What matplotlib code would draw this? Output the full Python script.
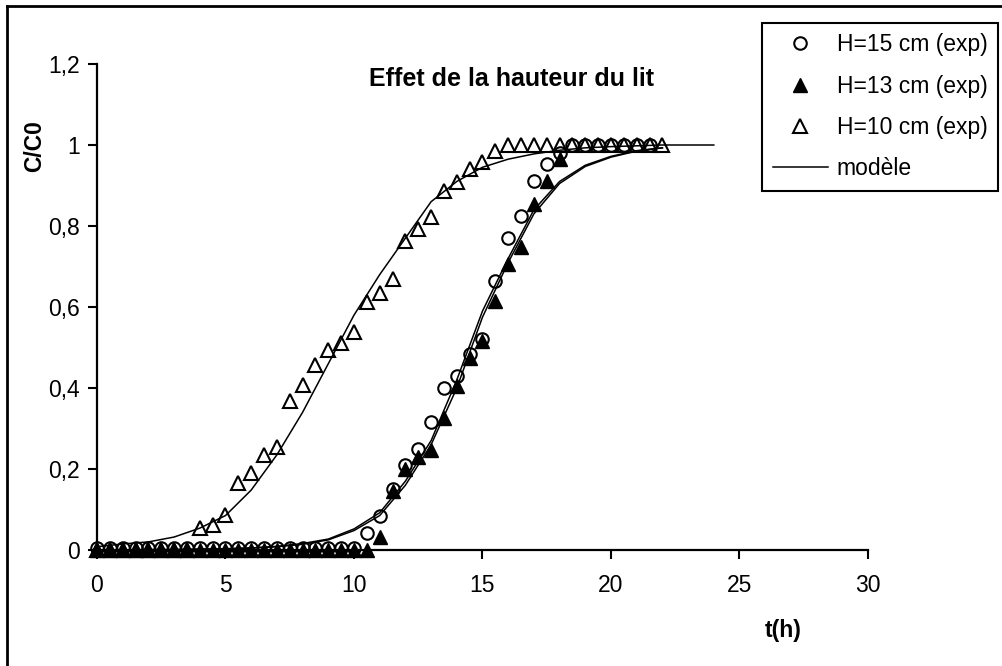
import matplotlib
matplotlib.use('Agg')
import matplotlib.pyplot as plt
from matplotlib.lines import Line2D
from matplotlib.ticker import FuncFormatter

plt.rcParams['font.family'] = ['Liberation Sans', 'DejaVu Sans']

# experimental points, H=15 cm (open circles)
t_h15 = [0, 0.5, 1, 1.5, 2, 2.5, 3, 3.5, 4, 4.5, 5, 5.5, 6, 6.5, 7, 7.5, 8, 8.5, 9, 9.5, 10,
         10.5, 11, 11.5, 12, 12.5, 13, 13.5, 14, 14.5, 15, 15.5, 16, 16.5, 17, 17.5, 18,
         18.5, 19, 19.5, 20, 20.5, 21, 21.5]
c_h15 = [0.005] * 21 + [0.042, 0.084, 0.15, 0.21, 0.25, 0.315, 0.40, 0.43, 0.483, 0.52,
                        0.664, 0.77, 0.825, 0.91, 0.953, 0.98,
                        1.0, 1.0, 1.0, 1.0, 1.0, 1.0, 1.0]

# experimental points, H=13 cm (filled triangles)
t_h13 = [0, 0.5, 1, 1.5, 2, 2.5, 3, 3.5, 4, 4.5, 5, 5.5, 6, 6.5, 7, 7.5, 8, 8.5, 9, 9.5, 10, 10.5,
         11, 11.5, 12, 12.5, 13, 13.5, 14, 14.5, 15, 15.5, 16, 16.5, 17, 17.5, 18]
c_h13 = [0.0] * 22 + [0.033, 0.145, 0.20, 0.23, 0.248, 0.326, 0.405, 0.475, 0.515,
                      0.615, 0.705, 0.747, 0.854, 0.91, 0.965]

# experimental points, H=10 cm (open triangles)
t_h10 = [0, 0.5, 1, 1.5, 2, 2.5, 3, 3.5, 4, 4.5, 5, 5.5, 6, 6.5, 7, 7.5, 8, 8.5, 9, 9.5, 10,
         10.5, 11, 11.5, 12, 12.5, 13, 13.5, 14, 14.5, 15, 15.5, 16, 16.5, 17, 17.5, 18,
         18.5, 19, 19.5, 20, 20.5, 21, 21.5, 22]
c_h10 = [0.0] * 8 + [0.054, 0.062, 0.087, 0.165, 0.19, 0.235, 0.255, 0.367, 0.408, 0.458,
                     0.495, 0.512, 0.538, 0.612, 0.635, 0.668, 0.763, 0.792, 0.821, 0.887,
                     0.908, 0.94, 0.957, 0.986] + [1.0] * 13

# model curves
t_mod = [0, 1, 2, 3, 4, 5, 6, 7, 8, 9, 10, 11, 12, 13, 14, 15, 16, 17, 18, 19, 20, 21, 22]
mod_h15 = [0.0, 0.0, 0.001, 0.001, 0.002, 0.003, 0.005, 0.009, 0.016, 0.027, 0.052, 0.092,
           0.17, 0.27, 0.42, 0.59, 0.72, 0.84, 0.91, 0.95, 0.972, 0.986, 0.993]
mod_h13 = [0.0, 0.0, 0.001, 0.001, 0.002, 0.003, 0.005, 0.008, 0.014, 0.025, 0.048, 0.085,
           0.16, 0.26, 0.40, 0.575, 0.71, 0.83, 0.905, 0.947, 0.97, 0.985, 0.993]
t_mod10 = [0, 1, 2, 3, 4, 5, 6, 7, 8, 9, 10, 11, 12, 13, 14, 15, 16, 17, 18, 19, 20, 21, 22, 23, 24]
mod_h10 = [0.008, 0.015, 0.02, 0.032, 0.054, 0.085, 0.148, 0.235, 0.34, 0.46, 0.58, 0.68,
           0.77, 0.86, 0.91, 0.945, 0.965, 0.978, 0.987, 0.993, 0.996, 0.998, 1.0, 1.0, 1.0]

labels = ['H=15 cm (exp)', 'H=13 cm (exp)', 'H=10 cm (exp)', 'modèle']

W, H = 1003, 666
fig = plt.figure(figsize=(W / 100, H / 100), dpi=100)
ax = fig.add_axes([97 / W, 1 - 550 / H, (868 - 97) / W, (550 - 64) / H])

# model lines
ax.plot(t_mod, mod_h15, color='black', lw=1.1)
ax.plot(t_mod, mod_h13, color='black', lw=1.1)
ax.plot(t_mod10, mod_h10, color='black', lw=1.1)

# experimental points
ax.plot(t_h15, c_h15, ls='none', marker='o', ms=9, mfc='none', mec='black', mew=1.5, clip_on=False)
ax.plot(t_h13, c_h13, ls='none', marker='^', ms=10, mfc='black', mec='black', mew=1.0, clip_on=False)
ax.plot(t_h10, c_h10, ls='none', marker='^', ms=10.5, mfc='none', mec='black', mew=1.5, clip_on=False)

ax.set_xlim(0, 30)
ax.set_ylim(0, 1.2)
ax.set_xticks([0, 5, 10, 15, 20, 25, 30])
ax.set_yticks([0, 0.2, 0.4, 0.6, 0.8, 1.0, 1.2])
ax.yaxis.set_major_formatter(FuncFormatter(lambda v, p: ('%g' % round(v, 1)).replace('.', ',')))

for s in ['top', 'right']:
    ax.spines[s].set_visible(False)
for s in ['left', 'bottom']:
    ax.spines[s].set_linewidth(1.6)
ax.tick_params(axis='both', direction='out', length=6.5, width=1.5, labelsize=16.5)
ax.tick_params(axis='x', pad=11)
ax.tick_params(axis='y', pad=6)

# titles and axis labels
fig.text(512 / W, 1 - 79 / H, 'Effet de la hauteur du lit', fontsize=18, fontweight='bold',
         ha='center', va='center')
fig.text(35 / W, 1 - 146 / H, 'C/C0', fontsize=16.5, fontweight='bold', rotation=90,
         ha='center', va='center')
fig.text(783 / W, 1 - 630 / H, 't(h)', fontsize=16.5, fontweight='bold', ha='center', va='center')

# legend
handles = [
    Line2D([], [], ls='none', marker='o', ms=9, mfc='none', mec='black', mew=1.5),
    Line2D([], [], ls='none', marker='^', ms=10, mfc='black', mec='black'),
    Line2D([], [], ls='none', marker='^', ms=10.5, mfc='none', mec='black', mew=1.5),
    Line2D([], [], color='black', lw=1.1),
]
leg = ax.legend(handles, labels, loc='upper right', bbox_to_anchor=(998 / W, 1 - 23 / H),
                bbox_transform=fig.transFigure, fancybox=False, edgecolor='black',
                fontsize=16.5, handlelength=2.4, handletextpad=0.4, labelspacing=0.8,
                borderpad=0.45, borderaxespad=0, numpoints=1)
leg.get_frame().set_linewidth(1.5)
leg.get_frame().set_alpha(1)

# outer frame (left and top edges visible)
fig.add_artist(Line2D([7 / W, 7 / W], [0, 1 - 6 / H], color='black', lw=2, transform=fig.transFigure))
fig.add_artist(Line2D([7 / W, 1], [1 - 6 / H, 1 - 6 / H], color='black', lw=2, transform=fig.transFigure))

fig.savefig('out.png', dpi=100)
